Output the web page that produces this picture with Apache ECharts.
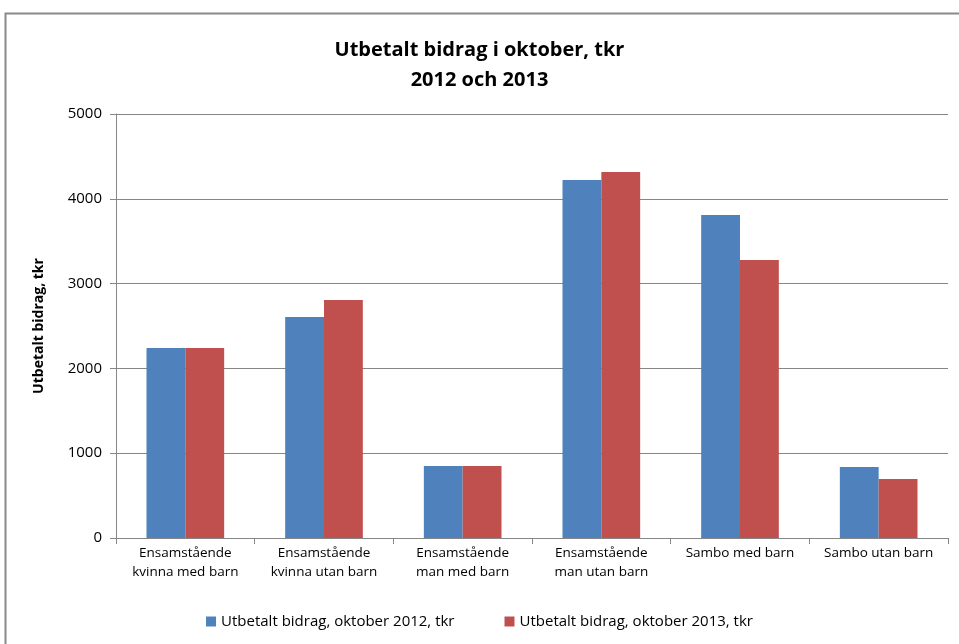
<!DOCTYPE html>
<html><head><meta charset="utf-8">
<script src="https://cdn.jsdelivr.net/npm/echarts@6/dist/echarts.min.js"></script>
<style>html,body{margin:0;padding:0;background:#fff}#c{width:959px;height:644px}</style>
</head><body><div id="c"></div>
<script>
const categories = ["Ensamstående\nkvinna med barn","Ensamstående\nkvinna utan barn","Ensamstående\nman med barn","Ensamstående\nman utan barn","Sambo med barn","Sambo utan barn"];
const series2012 = [2240, 2606, 850, 4222, 3809, 837];
const series2013 = [2240, 2807, 850, 4316, 3278, 696];
const seriesNames = ["Utbetalt bidrag, oktober 2012, tkr","Utbetalt bidrag, oktober 2013, tkr"];
const FONT = "'Liberation Sans Narrow','Open Sans',sans-serif";
const chart = echarts.init(document.getElementById('c'), null, {renderer:'canvas'});
chart.setOption({
  animation:false,
  textStyle:{fontFamily:FONT},
  graphic:[{type:'rect',shape:{x:5.5,y:13.5,width:1200,height:1200},style:{fill:'none',stroke:'#8a8a8a',lineWidth:2}}],
  title:{text:'Utbetalt bidrag i oktober, tkr\n2012 och 2013',left:'center',top:30,
    textStyle:{fontFamily:FONT,fontSize:20,fontWeight:'bold',color:'#000',lineHeight:30}},
  grid:{left:116,right:11,top:114,bottom:106,containLabel:false},
  legend:{bottom:10,left:'center',itemWidth:10,itemHeight:10,itemGap:50,icon:'rect',
    textStyle:{fontFamily:FONT,fontSize:15,color:'#000'}},
  xAxis:{type:'category',data:categories,
    axisLine:{lineStyle:{color:'#868686',width:1}},
    axisTick:{show:true,length:6,lineStyle:{color:'#868686'}},
    axisLabel:{color:'#000',fontSize:13.5,lineHeight:19,margin:6,interval:0}},
  yAxis:{type:'value',min:0,max:5000,interval:1000,
    name:'Utbetalt bidrag, tkr',nameLocation:'middle',nameGap:70,nameRotate:90,
    nameTextStyle:{fontFamily:FONT,fontSize:14,fontWeight:'bold',color:'#000'},
    axisLine:{show:true,lineStyle:{color:'#868686',width:1}},
    axisTick:{show:true,length:6,inside:false,lineStyle:{color:'#868686'}},
    splitLine:{lineStyle:{color:'#868686',width:1}},
    axisLabel:{color:'#000',fontSize:15,margin:14,formatter:function(v){return String(v);}}},
  series:[
    {name:seriesNames[0],type:'bar',data:series2012,itemStyle:{color:'#4F81BD'},barGap:'0%',barCategoryGap:'44%'},
    {name:seriesNames[1],type:'bar',data:series2013,itemStyle:{color:'#C0504D'},barGap:'0%',barCategoryGap:'44%'}
  ]
});
</script></body></html>
